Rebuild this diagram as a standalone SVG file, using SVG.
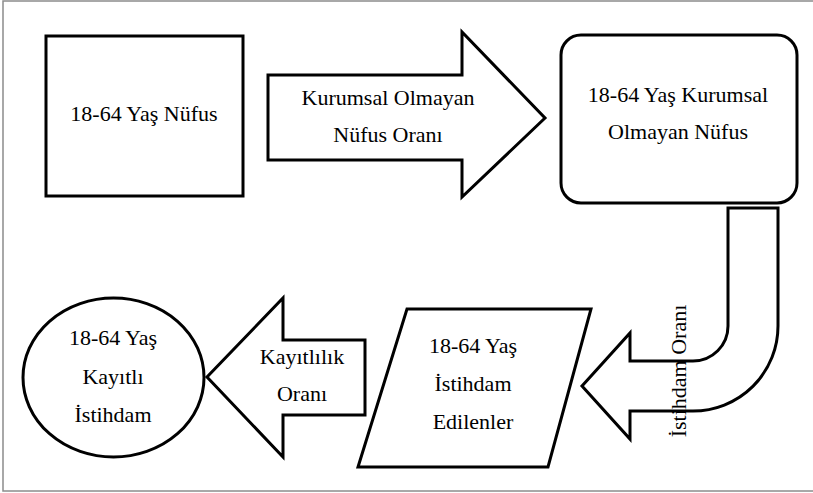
<svg xmlns="http://www.w3.org/2000/svg" width="813" height="493" viewBox="0 0 813 493">
<style>
.s{fill:#fff;stroke:#000;stroke-width:3;stroke-linejoin:miter}
</style>
<rect x="0" y="0" width="813" height="493" fill="#fff"/>
<rect x="3" y="1" width="815" height="490" fill="none" stroke="#8c8c8c" stroke-width="1.5"/>
<g font-family="Liberation Serif, DejaVu Serif, serif" font-size="22" fill="#000" text-anchor="middle">
<g id="node-nufus">
<rect class="s" x="46" y="36" width="197" height="160"/>
<text x="144" y="121">18-64 Yaş Nüfus</text>
</g>
<g id="node-kurumsal">
<rect class="s" x="561" y="35" width="236" height="168" rx="20" ry="20"/>
<text x="678" y="102">18-64 Yaş Kurumsal</text>
<text x="678" y="139">Olmayan Nüfus</text>
</g>
<g id="node-istihdam">
<polygon class="s" points="407,309 591,309 548,467 358,467"/>
<text x="473" y="353">18-64 Yaş</text>
<text x="473" y="391">İstihdam</text>
<text x="473" y="429">Edilenler</text>
</g>
<g id="node-kayitli">
<ellipse class="s" cx="113.5" cy="377.5" rx="90.5" ry="79.5"/>
<text x="113" y="345">18-64 Yaş</text>
<text x="113" y="384">Kayıtlı</text>
<text x="113" y="422">İstihdam</text>
</g>
<g id="connectors">
<g id="arrow-kurumsal-oran">
<polygon class="s" points="268,75 462,75 462,32 545,118 462,197 462,160 268,160"/>
<text x="388" y="105">Kurumsal Olmayan</text>
<text x="388" y="142">Nüfus Oranı</text>
</g>
<g id="arrow-istihdam-oran">
<path class="s" d="M728,208 L778,208 L778,326 A85,85 0 0 1 693,411 L630,411 L630,439 L582,386 L630,333 L630,361 L693,361 A35,35 0 0 0 728,326 Z"/>
<text transform="translate(686,371) rotate(-90)" x="0" y="0">İstihdam Oranı</text>
</g>
<g id="arrow-kayitlilik-oran">
<polygon class="s" points="365,340 283,340 283,298 207,377 283,457 283,415 365,415"/>
<text x="302" y="364">Kayıtlılık</text>
<text x="302" y="401">Oranı</text>
</g>
</g>
</g>
</svg>
